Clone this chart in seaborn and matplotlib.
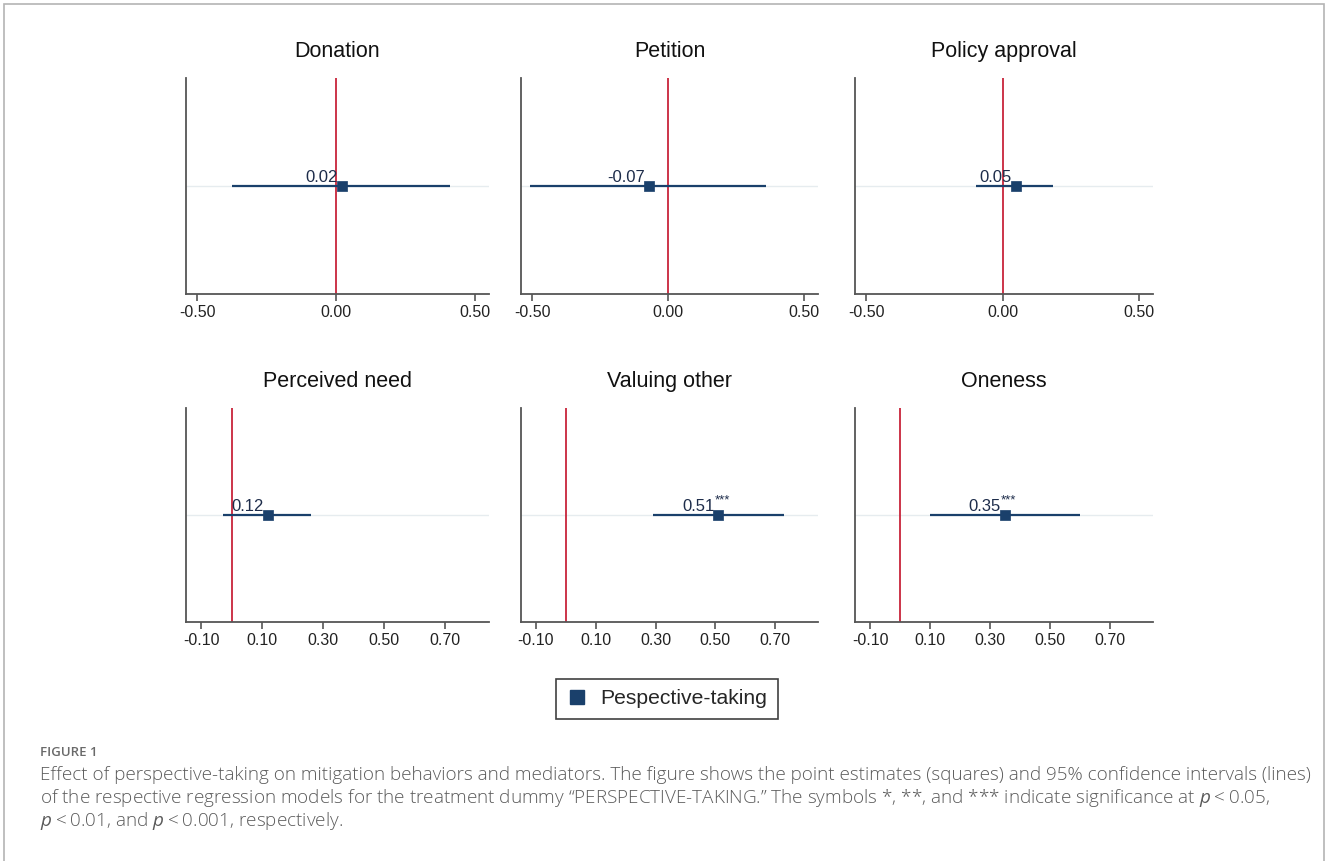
import numpy as np
import pandas as pd
import matplotlib
matplotlib.use('Agg')
import matplotlib.pyplot as plt
from matplotlib.lines import Line2D
from matplotlib.patches import Rectangle
import seaborn as sns

# Coefficients and 95% CIs for the PERSPECTIVE-TAKING dummy
outcomes = ['Donation', 'Petition', 'Policy approval',
            'Perceived need', 'Valuing other', 'Oneness']
estimates = [0.02, -0.07, 0.05, 0.12, 0.51, 0.35]
ci_low = [-0.375, -0.51, -0.097, -0.03, 0.293, 0.10]
ci_high = [0.41, 0.36, 0.184, 0.26, 0.73, 0.60]
stars = ['', '', '', '', '***', '***']

top_ticks = [-0.5, 0.0, 0.5]
bottom_ticks = [-0.1, 0.1, 0.3, 0.5, 0.7]

navy = '#1a406b'
red = '#c8243a'

sns.set_theme(style='white')
plt.rcParams['font.family'] = ['Liberation Sans', 'DejaVu Sans']
plt.rcParams['mathtext.fontset'] = 'custom'
plt.rcParams['mathtext.rm'] = 'Open Sans'
plt.rcParams['mathtext.it'] = 'Open Sans:italic'

W, H = 1328, 861
fig = plt.figure(figsize=(W / 100, H / 100), dpi=100)

# outer frame of the figure panel
fig.patches.append(Rectangle((4 / W, -0.01), (W - 8) / W, 1 - 4 / H + 0.01,
                             transform=fig.transFigure, fill=False,
                             edgecolor='#b4b4b4', linewidth=1.2))

lefts = [186, 521, 855]
widths = [303, 297, 298]
rows = [(78, 294), (408, 622)]

df = pd.DataFrame({'outcome': outcomes, 'est': estimates,
                   'lo': ci_low, 'hi': ci_high, 'stars': stars})

for i, row in df.iterrows():
    r, c = divmod(i, 3)
    top, bot = rows[r]
    ax = fig.add_axes([lefts[c] / W, 1 - bot / H, widths[c] / W, (bot - top) / H])
    if r == 0:
        ax.set_xlim(-0.5415, 0.5523)
        ax.set_xticks(top_ticks)
    else:
        ax.set_xlim(-0.15, 0.843)
        ax.set_xticks(bottom_ticks)
    ax.set_xticklabels([f'{t:.2f}' for t in ax.get_xticks()], fontsize=11.5, color='#222222')
    ax.set_ylim(0, 2)
    ax.set_yticks([])

    ax.axhline(1, color='#e6ecef', linewidth=1.0, zorder=0)
    ax.axvline(0, color=red, linewidth=1.3, zorder=1)
    ax.hlines(1, row['lo'], row['hi'], color=navy, linewidth=1.6, zorder=2)
    sns.scatterplot(x=[row['est']], y=[1], ax=ax, marker='s', s=58,
                    color=navy, edgecolor=navy, linewidth=0.5, zorder=3, legend=False)

    ax.annotate(f"{row['est']:.2f}", (row['est'], 1), xytext=(-3, 1),
                textcoords='offset points', ha='right', va='bottom',
                fontsize=12, color='#1d2c4a')
    if row['stars']:
        ax.annotate(row['stars'], (row['est'], 1), xytext=(-3, 6.5),
                    textcoords='offset points', ha='left', va='bottom',
                    fontsize=9.5, color='#1d2c4a')

    ax.set_title(row['outcome'], fontsize=15.5, color='#111111', pad=15)
    sns.despine(ax=ax)
    for s in ['left', 'bottom']:
        ax.spines[s].set_color('#555555')
        ax.spines[s].set_linewidth(1.3)
    ax.tick_params(axis='x', direction='out', length=5, width=1.2,
                   color='#555555', bottom=True, pad=3)

handle = Line2D([], [], marker='s', linestyle='none', markersize=10,
                color=navy, label='Pespective-taking')
fig.legend(handles=[handle], loc='center', bbox_to_anchor=(667 / W, 1 - 699 / H),
           frameon=True, fancybox=False, edgecolor='#111111', fontsize=15.2,
           handletextpad=0.6, borderpad=0.5, handlelength=1.0,
           borderaxespad=0).get_frame().set_linewidth(1.2)

cap_color = '#5b5b5b'
fig.text(40 / W, 1 - 752 / H, 'FIGURE 1', fontsize=9.5, color='#6a6a6a',
         family='Open Sans', weight='semibold', va='center')
lines = [
    'Effect of perspective-taking on mitigation behaviors and mediators. The figure shows the point estimates (squares) and 95% confidence intervals (lines)',
    'of the respective regression models for the treatment dummy \u201cPERSPECTIVE-TAKING.\u201d The symbols *, **, and *** indicate significance at $p$\u2009<\u20090.05,',
    '$p$\u2009<\u20090.01, and $p$\u2009<\u20090.001, respectively.',
]
for k, ln in enumerate(lines):
    fig.text(40 / W, 1 - (775 + 23 * k) / H, ln, fontsize=13.6, color=cap_color,
             family='Open Sans', weight='light', va='center')

fig.savefig('out.png', dpi=100)
